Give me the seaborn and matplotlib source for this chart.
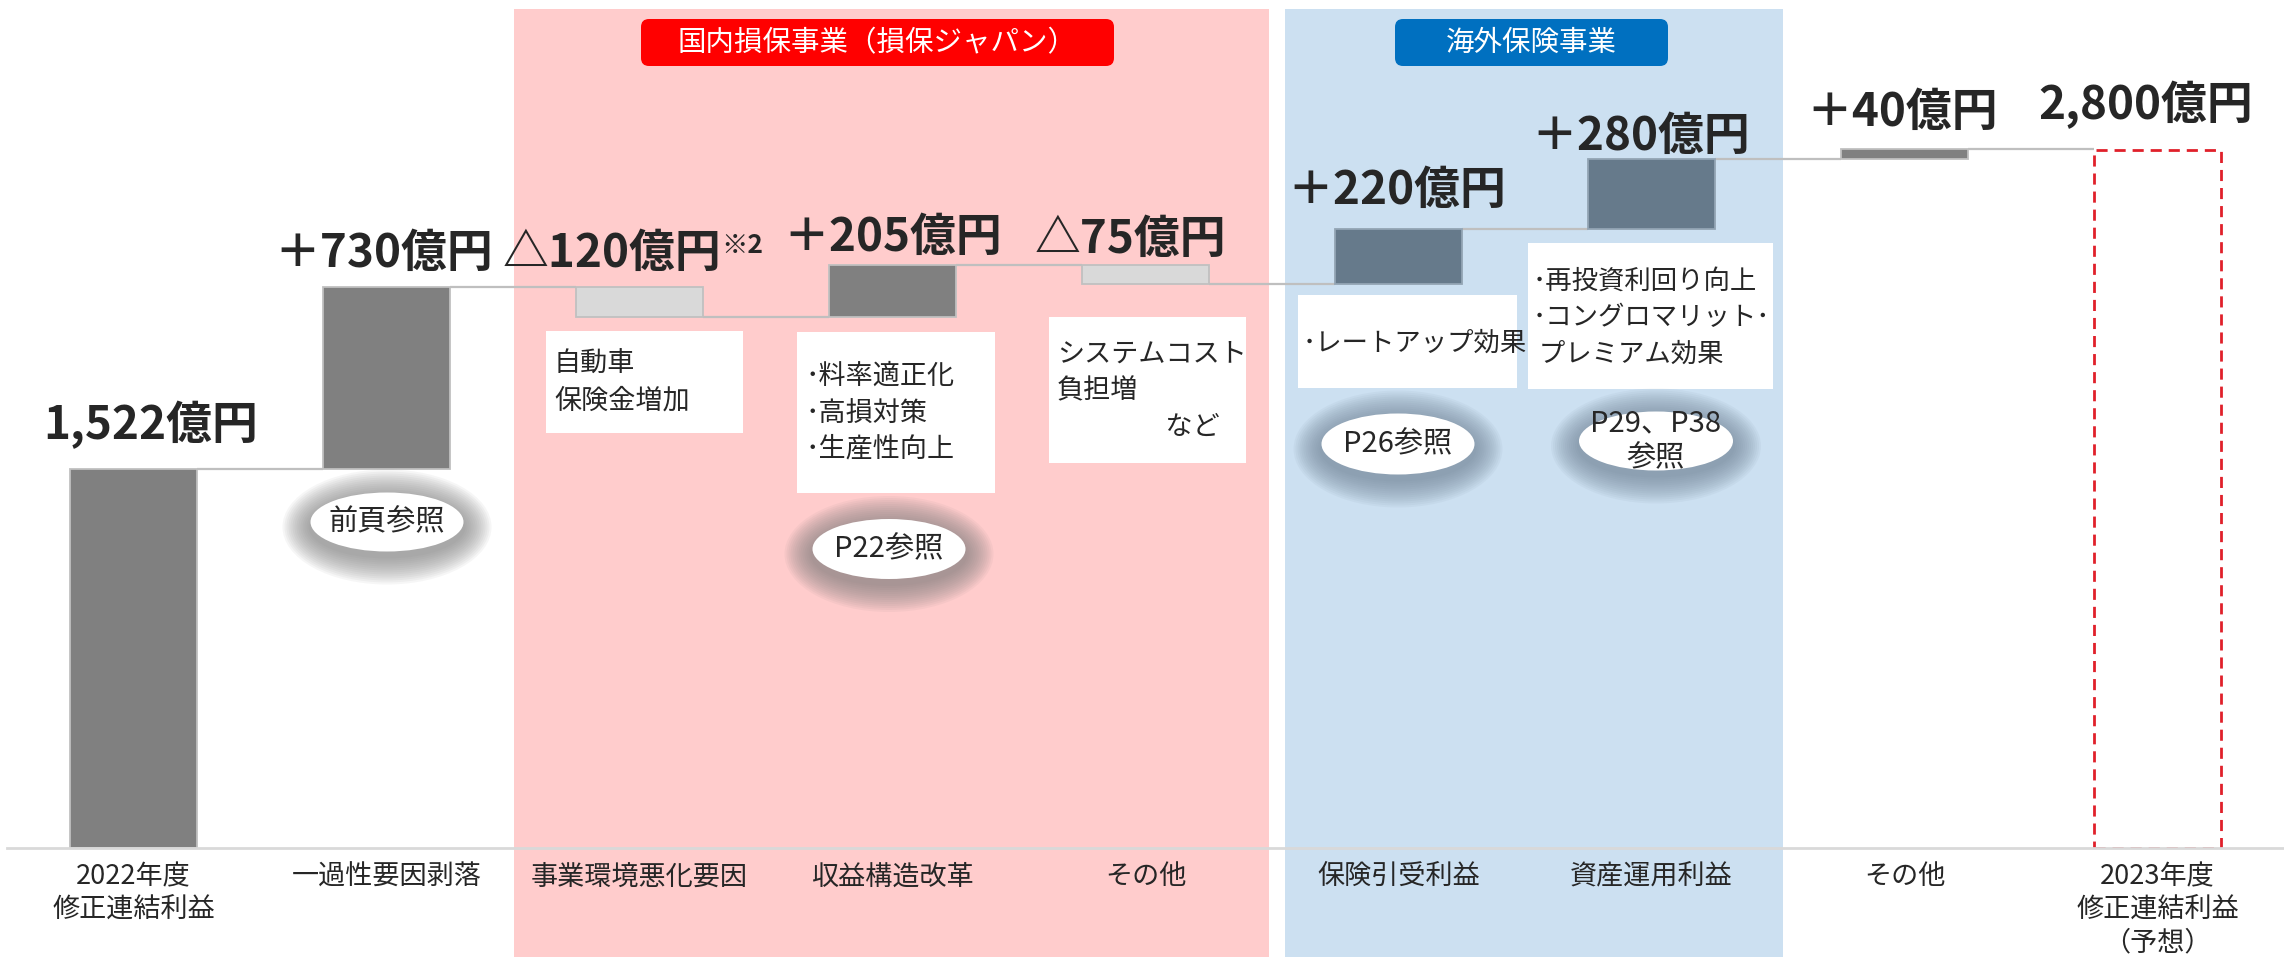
import numpy as np
import pandas as pd
import matplotlib
matplotlib.use("Agg")
import matplotlib.pyplot as plt
import matplotlib.transforms as mtransforms
from matplotlib.patches import Rectangle, Ellipse, FancyBboxPatch
import seaborn as sns

sns.set_style("white")
plt.rcParams['font.family'] = ['Noto Sans CJK JP', 'DejaVu Sans']

W, H = 2284, 957

# --- data ---------------------------------------------------------------
step_ids = ["fy2022", "one_off", "env", "structure", "other_dom",
            "uw", "invest", "other", "fy2023"]
step_labels = ["2022年度\n修正連結利益", "一過性要因剥落", "事業環境悪化要因",
               "収益構造改革", "その他", "保険引受利益", "資産運用利益",
               "その他", "2023年度\n修正連結利益\n（予想）"]
start_value = 1522
deltas = [730, -120, 205, -75, 220, 280, 40]
end_value = 2800
value_labels = ["1,522億円", "＋730億円", "△120億円", "＋205億円", "△75億円",
                "＋220億円", "＋280億円", "＋40億円", "2,800億円"]

notes = ["自動車\n保険金増加",
         "･料率適正化\n･高損対策\n･生産性向上",
         "システムコスト\n負担増\n　　　　など",
         "･レートアップ効果",
         "･再投資利回り向上\n･コングロマリット･\n プレミアム効果"]
refs = ["前頁参照", "P22参照", "P26参照", "P29、P38\n参照"]
groups = ["国内損保事業（損保ジャパン）", "海外保険事業"]

# --- waterfall geometry from the values -----------------------------------
bottoms, heights, levels = [0], [start_value], [start_value]
running = start_value
for d in deltas:
    bottoms.append(min(running, running + d))
    heights.append(abs(d))
    running += d
    levels.append(running)
bottoms.append(0)
heights.append(end_value)
levels.append(end_value)

df = pd.DataFrame({"step": step_ids, "height": heights})

# styles
GRAY, LIGHT, SLATE = "#808080", "#d9d9d9", "#667a8b"
bar_fc = [GRAY, GRAY, LIGHT, GRAY, LIGHT, SLATE, SLATE, GRAY, "none"]
bar_ec = ["#c0c0c0"] * 5 + ["#93a5b4"] * 2 + ["#c0c0c0", "#e0202a"]
label_lift = [29, 20, 20, 14, 12, 25, 10, 24, 31]      # px above bar top
label_dx = [17, -3, -28, 0, -15, -2, -11, -2, -12]     # px

fig = plt.figure(figsize=(W / 100, H / 100), dpi=100)
fig.patch.set_facecolor("white")
base_px = 848
ax = fig.add_axes([7 / W, (H - base_px) / H, (W - 7) / W, base_px / H])
ax.set_facecolor("none")
PX = mtransforms.Affine2D().scale(1, -1).translate(0, H)   # image pixel coords

sns.barplot(data=df, x="step", y="height", order=step_ids, bottom=bottoms,
            width=0.5, color=GRAY, saturation=1, errorbar=None, ax=ax)
for p, fc, ec in zip(ax.containers[0], bar_fc, bar_ec):
    p.set_facecolor(fc)
    p.set_edgecolor(ec)
    p.set_linewidth(1.3)
    p.set_zorder(2)
last = ax.containers[0][-1]
last.set_linewidth(2.0)
last.set_linestyle((0, (4, 2.5)))

# connectors
for i in range(len(levels) - 1):
    ax.hlines(levels[i], i + 0.25, i + 0.75, color="#bfbfbf", lw=1.6, zorder=1.5)

ax.set_xlim(-0.5, len(step_ids) - 0.5)
ax.set_ylim(0, base_px / 0.24929)
ax.set_xlabel("")
ax.set_ylabel("")
ax.set_yticks([])
for s in ["left", "right", "top"]:
    ax.spines[s].set_visible(False)
ax.spines["bottom"].set_color("#d9d9d9")
ax.spines["bottom"].set_linewidth(2)
ax.set_xticks(range(len(step_ids)), labels=step_labels)
ax.tick_params(axis="x", length=0, pad=11, labelsize=19.5)
for lab in ax.get_xticklabels():
    lab.set_linespacing(1.3)

# value labels
tops = [b + h for b, h in zip(bottoms, heights)]
for i, (t, txt) in enumerate(zip(tops, value_labels)):
    an = ax.annotate(txt, xy=(i, t), xytext=(label_dx[i] * 0.72, label_lift[i] * 0.72),
                     textcoords="offset points", ha="center", va="baseline",
                     fontsize=33, fontweight="bold", zorder=6)
    if i == 2:
        ax.annotate("※2", xy=(1, 0.97), xycoords=an, ha="left", va="top",
                    fontsize=19, fontweight="bold", zorder=6)

# shaded business segments
for (x0, x1, col) in [(514, 1269, "#ffcccc"), (1285, 1783, "#cce0f1")]:
    ax.add_patch(Rectangle((x0, 9), x1 - x0, H - 9, transform=PX, fc=col,
                           ec="none", zorder=0, clip_on=False))
for (x0, x1, col), txt in zip([(641, 1114, "#ff0000"), (1395, 1668, "#0070c0")], groups):
    ax.add_patch(FancyBboxPatch((x0, 19), x1 - x0, 47, transform=PX,
                                boxstyle="round,pad=0,rounding_size=8",
                                fc=col, ec="none", zorder=3, clip_on=False))
    ax.text((x0 + x1) / 2, 43, txt, transform=PX, ha="center", va="center",
            color="white", fontsize=20.5, zorder=4)

# note boxes
note_boxes = [(546, 331, 743, 433, 554), (797, 332, 995, 493, 805),
              (1049, 317, 1246, 463, 1057), (1298, 295, 1517, 388, 1303),
              (1528, 243, 1773, 389, 1533)]
note_cy = [383, 413, 391, 343, 318]
note_size = [19.5, 19.5, 19.5, 19, 19]
for (x0, y0, x1, y1, tx), cy, fs, txt in zip(note_boxes, note_cy, note_size, notes):
    ax.add_patch(Rectangle((x0, y0), x1 - x0, y1 - y0, transform=PX, fc="white",
                           ec="none", zorder=3, clip_on=False))
    ax.text(tx, cy, txt, transform=PX, ha="left", va="center", fontsize=fs,
            linespacing=1.45, zorder=4)

# glowing reference ellipses
ellipses = [(387, 522, 153, 59, "#7a7a7a"), (889, 549, 153, 60, "#7a7a7a"),
            (1398, 444, 153, 61, "#6d8092"), (1656, 441, 154, 59, "#6d8092")]
for (cx, cy, w, h, glow), txt in zip(ellipses, refs):
    for k in range(14, 0, -1):
        g = k * 2.0
        ax.add_patch(Ellipse((cx, cy + 5), w + 2 * g, h + 2 * g, transform=PX,
                             fc=glow, ec="none", alpha=0.065, zorder=3, clip_on=False))
    ax.add_patch(Ellipse((cx, cy), w, h, transform=PX, fc="white", ec="none",
                         zorder=4, clip_on=False))
    ax.text(cx, cy, txt, transform=PX, ha="center", va="center", fontsize=21,
            linespacing=1.2, zorder=5)

fig.savefig("out.png", dpi=100, facecolor="white")
